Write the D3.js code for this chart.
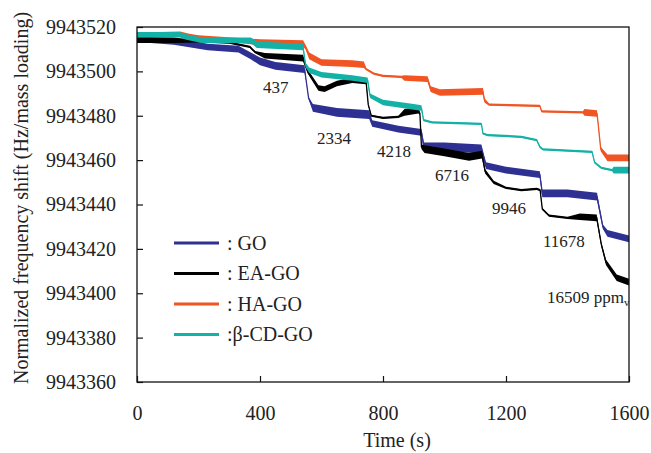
<!DOCTYPE html>
<html>
<head>
<meta charset="utf-8">
<script src="https://cdn.jsdelivr.net/npm/d3@7"></script>
<style>
  body { margin: 0; background: #fff; }
  svg text { font-family: "Liberation Serif", "Times New Roman", serif; fill: #222; }
</style>
</head>
<body>
<div id="chart"></div>
<script>
// each point: [time (s), normalized frequency shift, noise band height]
const goData = [
  [0, 9943514.5, 2.5], [120, 9943513.5, 3], [230, 9943511, 3], [330, 9943510, 3],
  [370, 9943507, 3], [400, 9943504.5, 3.5], [450, 9943502.5, 3.5], [545, 9943501, 3.5],
  [550, 9943496, 1], [558, 9943488, 1], [572, 9943483.5, 3.5], [650, 9943481.5, 4],
  [755, 9943480.5, 4], [765, 9943476.5, 3], [850, 9943474, 3], [925, 9943472.5, 3],
  [933, 9943466, 4], [1000, 9943466, 4], [1120, 9943465, 4], [1135, 9943457.5, 3],
  [1200, 9943455.5, 3], [1310, 9943453.5, 3], [1318, 9943445, 3.5], [1400, 9943445, 3.5],
  [1496, 9943443.5, 3.5], [1515, 9943430, 2], [1530, 9943427, 3], [1600, 9943424.5, 3]
];
const eaData = [
  [0, 9943514, 2.5], [120, 9943514, 2.5], [200, 9943513.5, 1], [300, 9943513, 1],
  [367, 9943511, 1], [384, 9943508.7, 1], [416, 9943507, 2.5], [540, 9943506, 3],
  [555, 9943500, 2], [590, 9943492.5, 2.5], [610, 9943492, 2.5], [650, 9943494.5, 2.5],
  [700, 9943496, 2.5], [745, 9943495.5, 2.5], [752, 9943485, 1], [762, 9943480, 1],
  [800, 9943479, 1], [850, 9943479.5, 1], [870, 9943481.5, 3], [915, 9943482.5, 3],
  [920, 9943481, 1], [925, 9943466, 2], [935, 9943465, 3.5], [1000, 9943463.5, 3.5],
  [1080, 9943461.5, 3.5], [1122, 9943462.5, 3.5], [1132, 9943455, 2], [1160, 9943450, 1.5],
  [1200, 9943447.5, 1], [1250, 9943446.5, 1], [1300, 9943447, 1], [1311, 9943446.5, 1],
  [1318, 9943438, 1], [1340, 9943435, 1], [1400, 9943434, 1], [1440, 9943434.5, 3],
  [1495, 9943434, 3], [1510, 9943422, 2], [1525, 9943414, 2.5], [1560, 9943407, 3],
  [1600, 9943405, 3]
];
const haData = [
  [0, 9943516.5, 2], [140, 9943517, 2], [170, 9943516, 2], [200, 9943515.3, 2],
  [370, 9943513.5, 2.5], [400, 9943513, 3], [540, 9943512.5, 3], [548, 9943511, 2],
  [560, 9943507, 3], [600, 9943504, 3], [700, 9943503.5, 3], [738, 9943503, 3],
  [745, 9943501, 1], [770, 9943499, 1], [800, 9943498, 1], [860, 9943497.5, 1],
  [870, 9943497, 2.5], [945, 9943496.5, 2.5], [955, 9943492, 2.5], [985, 9943490.5, 3],
  [1125, 9943491, 3], [1130, 9943487, 2], [1145, 9943485, 1], [1310, 9943484.5, 1],
  [1316, 9943482, 1], [1450, 9943481.5, 1], [1455, 9943481.5, 3], [1496, 9943481, 3],
  [1500, 9943476, 1], [1508, 9943465, 2], [1530, 9943461, 3], [1600, 9943461, 3]
];
const cdData = [
  [0, 9943516.5, 2.5], [140, 9943516.5, 2.5], [160, 9943515.5, 2.5], [210, 9943514, 2.5],
  [370, 9943514, 2.5], [390, 9943512, 3], [540, 9943511, 3], [548, 9943503, 2],
  [560, 9943500.5, 2.5], [600, 9943498.5, 2.5], [700, 9943497, 2.5], [750, 9943496, 2.5],
  [758, 9943489, 2], [800, 9943486, 2.5], [900, 9943484, 2.5], [925, 9943483.5, 2.5],
  [932, 9943478, 1], [960, 9943477, 1], [1120, 9943476.3, 1], [1125, 9943472, 1],
  [1140, 9943471.3, 1], [1250, 9943470.5, 1], [1300, 9943469, 1], [1310, 9943466, 1],
  [1320, 9943464.8, 1], [1480, 9943463.7, 1], [1488, 9943459, 1], [1510, 9943456.5, 1],
  [1545, 9943455.5, 1], [1550, 9943455.5, 3], [1600, 9943455.5, 3]
];

const seriesNames = [": GO", ": EA-GO", ": HA-GO", ":\u03b2-CD-GO"];
const seriesData = [goData, eaData, haData, cdData];
const seriesColors = ["#2E3192", "#000000", "#F05523", "#14B1A6"];

const xTicks = [0, 400, 800, 1200, 1600];
const yTicks = [9943360, 9943380, 9943400, 9943420, 9943440, 9943460, 9943480, 9943500, 9943520];
const concLabels = ["437", "2334", "4218", "6716", "9946", "11678", "16509"];

const W = 651, H = 453;
const margin = {top: 27, right: 22, bottom: 71, left: 137};
const width = W - margin.left - margin.right;
const height = H - margin.top - margin.bottom;

const svg = d3.select("#chart").append("svg")
  .attr("width", W).attr("height", H);

const g = svg.append("g")
  .attr("transform", `translate(${margin.left},${margin.top})`);

const x = d3.scaleLinear().domain([0, 1600]).range([0, width]);
const y = d3.scaleLinear().domain([9943360, 9943520]).range([height, 0]);

g.append("clipPath").attr("id", "clip")
  .append("rect").attr("width", width).attr("height", height);

const plot = g.append("g").attr("clip-path", "url(#clip)");

const band = d3.area()
  .x(d => x(d[0]))
  .y0(d => y(d[1] - d[2] / 2))
  .y1(d => y(d[1] + d[2] / 2));
const line = d3.line()
  .x(d => x(d[0]))
  .y(d => y(d[1]));

seriesData.forEach((data, i) => {
  plot.append("path")
    .attr("d", band(data))
    .attr("fill", seriesColors[i]);
  plot.append("path")
    .attr("d", line(data))
    .attr("fill", "none")
    .attr("stroke", seriesColors[i])
    .attr("stroke-width", 1.3);
});

// frame
g.append("rect")
  .attr("width", width).attr("height", height)
  .attr("fill", "none").attr("stroke", "#111").attr("stroke-width", 1.3);

// axes with inward ticks
const yAxis = d3.axisLeft(y).tickValues(yTicks).tickSize(-6).tickPadding(21).tickFormat(d3.format("d"));
const xAxis = d3.axisBottom(x).tickValues(xTicks).tickSize(-6).tickPadding(24).tickFormat(d3.format("d"));

g.append("g").call(yAxis)
  .call(a => a.select(".domain").remove())
  .call(a => a.selectAll("line").attr("stroke", "#111").attr("stroke-width", 1.2))
  .call(a => a.selectAll("text").attr("font-size", 20).attr("font-family", "Liberation Serif").attr("fill", "#222"));

g.append("g").attr("transform", `translate(0,${height})`).call(xAxis)
  .call(a => a.select(".domain").remove())
  .call(a => a.selectAll("line").attr("stroke", "#111").attr("stroke-width", 1.2))
  .call(a => a.selectAll("text").attr("font-size", 20).attr("font-family", "Liberation Serif").attr("fill", "#222"));

// axis titles
svg.append("text")
  .attr("transform", "translate(28,198) rotate(-90)")
  .attr("text-anchor", "middle")
  .attr("font-size", 20)
  .text("Normalized frequency shift (Hz/mass loading)");

svg.append("text")
  .attr("x", 397).attr("y", 447)
  .attr("text-anchor", "middle")
  .attr("font-size", 20)
  .text("Time (s)");

// concentration labels (ppmv)
const labelPos = [[263, 93], [317, 144], [377, 157], [435, 181], [492, 214], [543, 247], [547, 303]];
concLabels.forEach((lbl, i) => {
  const t = svg.append("text")
    .attr("x", labelPos[i][0]).attr("y", labelPos[i][1])
    .attr("font-size", 17)
    .text(lbl);
  if (i === concLabels.length - 1) {
    t.append("tspan").text(" ppm");
    t.append("tspan").attr("font-size", 11).attr("dy", 3).text("v");
  }
});

// legend
const legend = svg.append("g").attr("transform", "translate(174,243)");
seriesNames.forEach((name, i) => {
  const row = legend.append("g").attr("transform", `translate(0,${i * 30.5})`);
  row.append("line")
    .attr("x1", 0).attr("x2", 45)
    .attr("stroke", seriesColors[i]).attr("stroke-width", 3);
  row.append("text")
    .attr("x", 53).attr("y", 6.5)
    .attr("font-size", 20)
    .text(name);
});
</script>
</body>
</html>
